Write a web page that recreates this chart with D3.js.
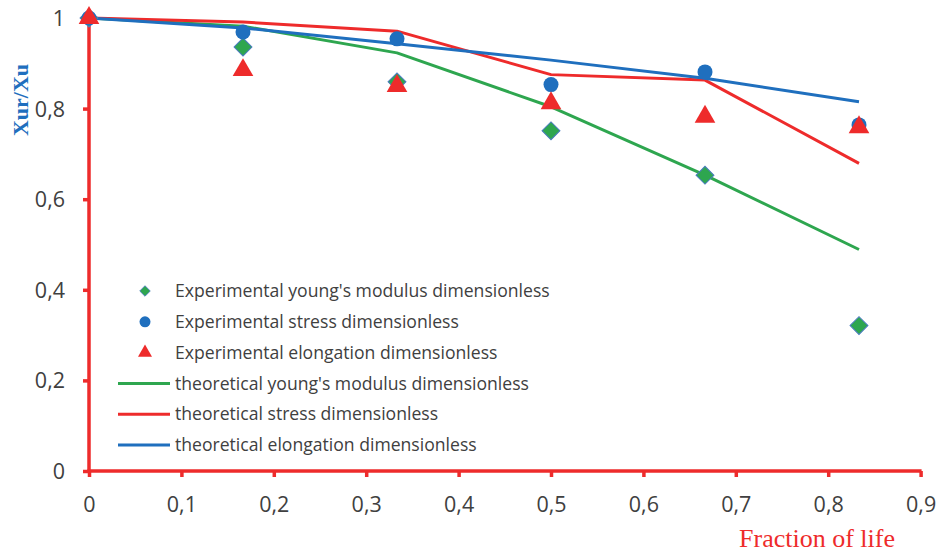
<!DOCTYPE html>
<html><head><meta charset="utf-8">
<script src="https://cdn.jsdelivr.net/npm/d3@7"></script>
<style>body{margin:0;background:#fff}svg{display:block}</style>
</head><body><svg id="c" width="940" height="554"></svg>
<script>
const fraction = [0, 1/6, 1/3, 0.5, 2/3, 5/6];
const expYoung = [1.0, 0.936, 0.859, 0.751, 0.653, 0.321];
const expStress = [1.0, 0.969, 0.954, 0.853, 0.881, 0.764];
const expElong = [1.0, 0.885, 0.850, 0.812, 0.782, 0.759];
const theoYoung = [1.0, 0.982, 0.923, 0.804, 0.653, 0.489];
const theoStress = [1.0, 0.991, 0.971, 0.875, 0.863, 0.679];
const theoElong = [1.0, 0.978, 0.943, 0.907, 0.867, 0.815];
const xTicks = [0, 0.1, 0.2, 0.3, 0.4, 0.5, 0.6, 0.7, 0.8, 0.9];
const yTicks = [0, 0.2, 0.4, 0.6, 0.8, 1];
const legendLabels = ["Experimental young's modulus dimensionless","Experimental stress dimensionless","Experimental elongation dimensionless","theoretical young's modulus dimensionless","theoretical stress dimensionless","theoretical elongation dimensionless"];

const GREEN="#2ea64f", RED="#ee2b2b", BLUE="#1f6fbe", TXT="#404040";
const svg = d3.select("#c");
const x = d3.scaleLinear().domain([0,0.9]).range([89,920.6]);
const y = d3.scaleLinear().domain([0,1]).range([471,18]);
const loc = d3.formatLocale({decimal:",",thousands:".",grouping:[3],currency:["",""]});
const fmt = v => v===0?"0":(v===1?"1":loc.format(".1f")(v));

// axes
const gx = svg.append("g").attr("transform",`translate(0,${y(0)})`)
  .call(d3.axisBottom(x).tickValues(xTicks).tickFormat(fmt).tickSize(6).tickPadding(20));
const gy = svg.append("g").attr("transform",`translate(${x(0)},0)`)
  .call(d3.axisLeft(y).tickValues(yTicks).tickFormat(fmt).tickSize(6).tickPadding(18));
[gx,gy].forEach(g=>{
  g.select(".domain").attr("stroke",RED).attr("stroke-width",3.5).attr("d", g===gx?`M${x(0)-1.5},0H${x(0.9)+1}`:`M0,${y(1)}V${y(0)+1.5}`);
  g.selectAll(".tick line").attr("stroke",RED).attr("stroke-width",3.5);
  g.selectAll(".tick text").attr("fill",TXT).style("font-family","Open Sans").style("font-size","21.5px");
});
gy.selectAll(".tick text").attr("dy","0.35em");

// titles
svg.append("text").attr("transform",`translate(28,100) rotate(-90)`).attr("text-anchor","middle")
  .style("font-family","Liberation Serif").style("font-weight","bold").style("font-size","22px").attr("fill",BLUE).text("Xur/Xu");
svg.append("text").attr("x",817).attr("y",547).attr("text-anchor","middle")
  .style("font-family","Liberation Serif").style("font-size","26px").attr("fill",RED).text("Fraction of life");

// lines
const line = d3.line().x((d,i)=>x(fraction[i])).y(d=>y(d));
[[theoYoung,GREEN],[theoStress,RED],[theoElong,BLUE]].forEach(([data,c])=>{
  svg.append("path").attr("d",line(data)).attr("fill","none").attr("stroke",c).attr("stroke-width",3).attr("stroke-linejoin","round");
});

const diamond = d3.symbol().type(d3.symbolSquare).size(160)();
const tri = d3.symbol().type(d3.symbolTriangle).size(185)();
function drawMarker(g,type,cx,cy){
  if(type==="d") g.append("path").attr("d",diamond).attr("transform",`translate(${cx},${cy}) rotate(45)`).attr("fill",GREEN).attr("stroke","#4a7bbf").attr("stroke-width",1);
  else if(type==="c") g.append("circle").attr("cx",cx).attr("cy",cy).attr("r",7.5).attr("fill",BLUE);
  else g.append("path").attr("d",tri).attr("transform",`translate(${cx},${cy})`).attr("fill",RED);
}
const mk = svg.append("g");
expYoung.forEach((v,i)=>drawMarker(mk,"d",x(fraction[i]),y(v)));
expStress.forEach((v,i)=>drawMarker(mk,"c",x(fraction[i]),y(v)));
expElong.forEach((v,i)=>drawMarker(mk,"t",x(fraction[i]),y(v)));

// legend
const lg = svg.append("g");
const types=["d","c","t","l","l","l"], lcol=[null,null,null,GREEN,RED,BLUE];
legendLabels.forEach((lab,i)=>{
  const yy = 291 + i*30.8;
  if(types[i]==="l") lg.append("line").attr("x1",118).attr("x2",170).attr("y1",yy).attr("y2",yy).attr("stroke",lcol[i]).attr("stroke-width",3);
  else if(types[i]==="d") lg.append("path").attr("d",d3.symbol().type(d3.symbolSquare).size(55)()).attr("transform",`translate(145,${yy}) rotate(45)`).attr("fill",GREEN).attr("stroke","#4a7bbf").attr("stroke-width",0.8);
  else if(types[i]==="c") lg.append("circle").attr("cx",145).attr("cy",yy).attr("r",5.5).attr("fill",BLUE);
  else lg.append("path").attr("d",d3.symbol().type(d3.symbolTriangle).size(85)()).attr("transform",`translate(145,${yy})`).attr("fill",RED);
  lg.append("text").attr("x",175).attr("y",yy).attr("dy","0.35em").attr("fill",TXT)
    .style("font-family","Open Sans").style("font-size","17.6px").text(lab);
});
</script></body></html>
